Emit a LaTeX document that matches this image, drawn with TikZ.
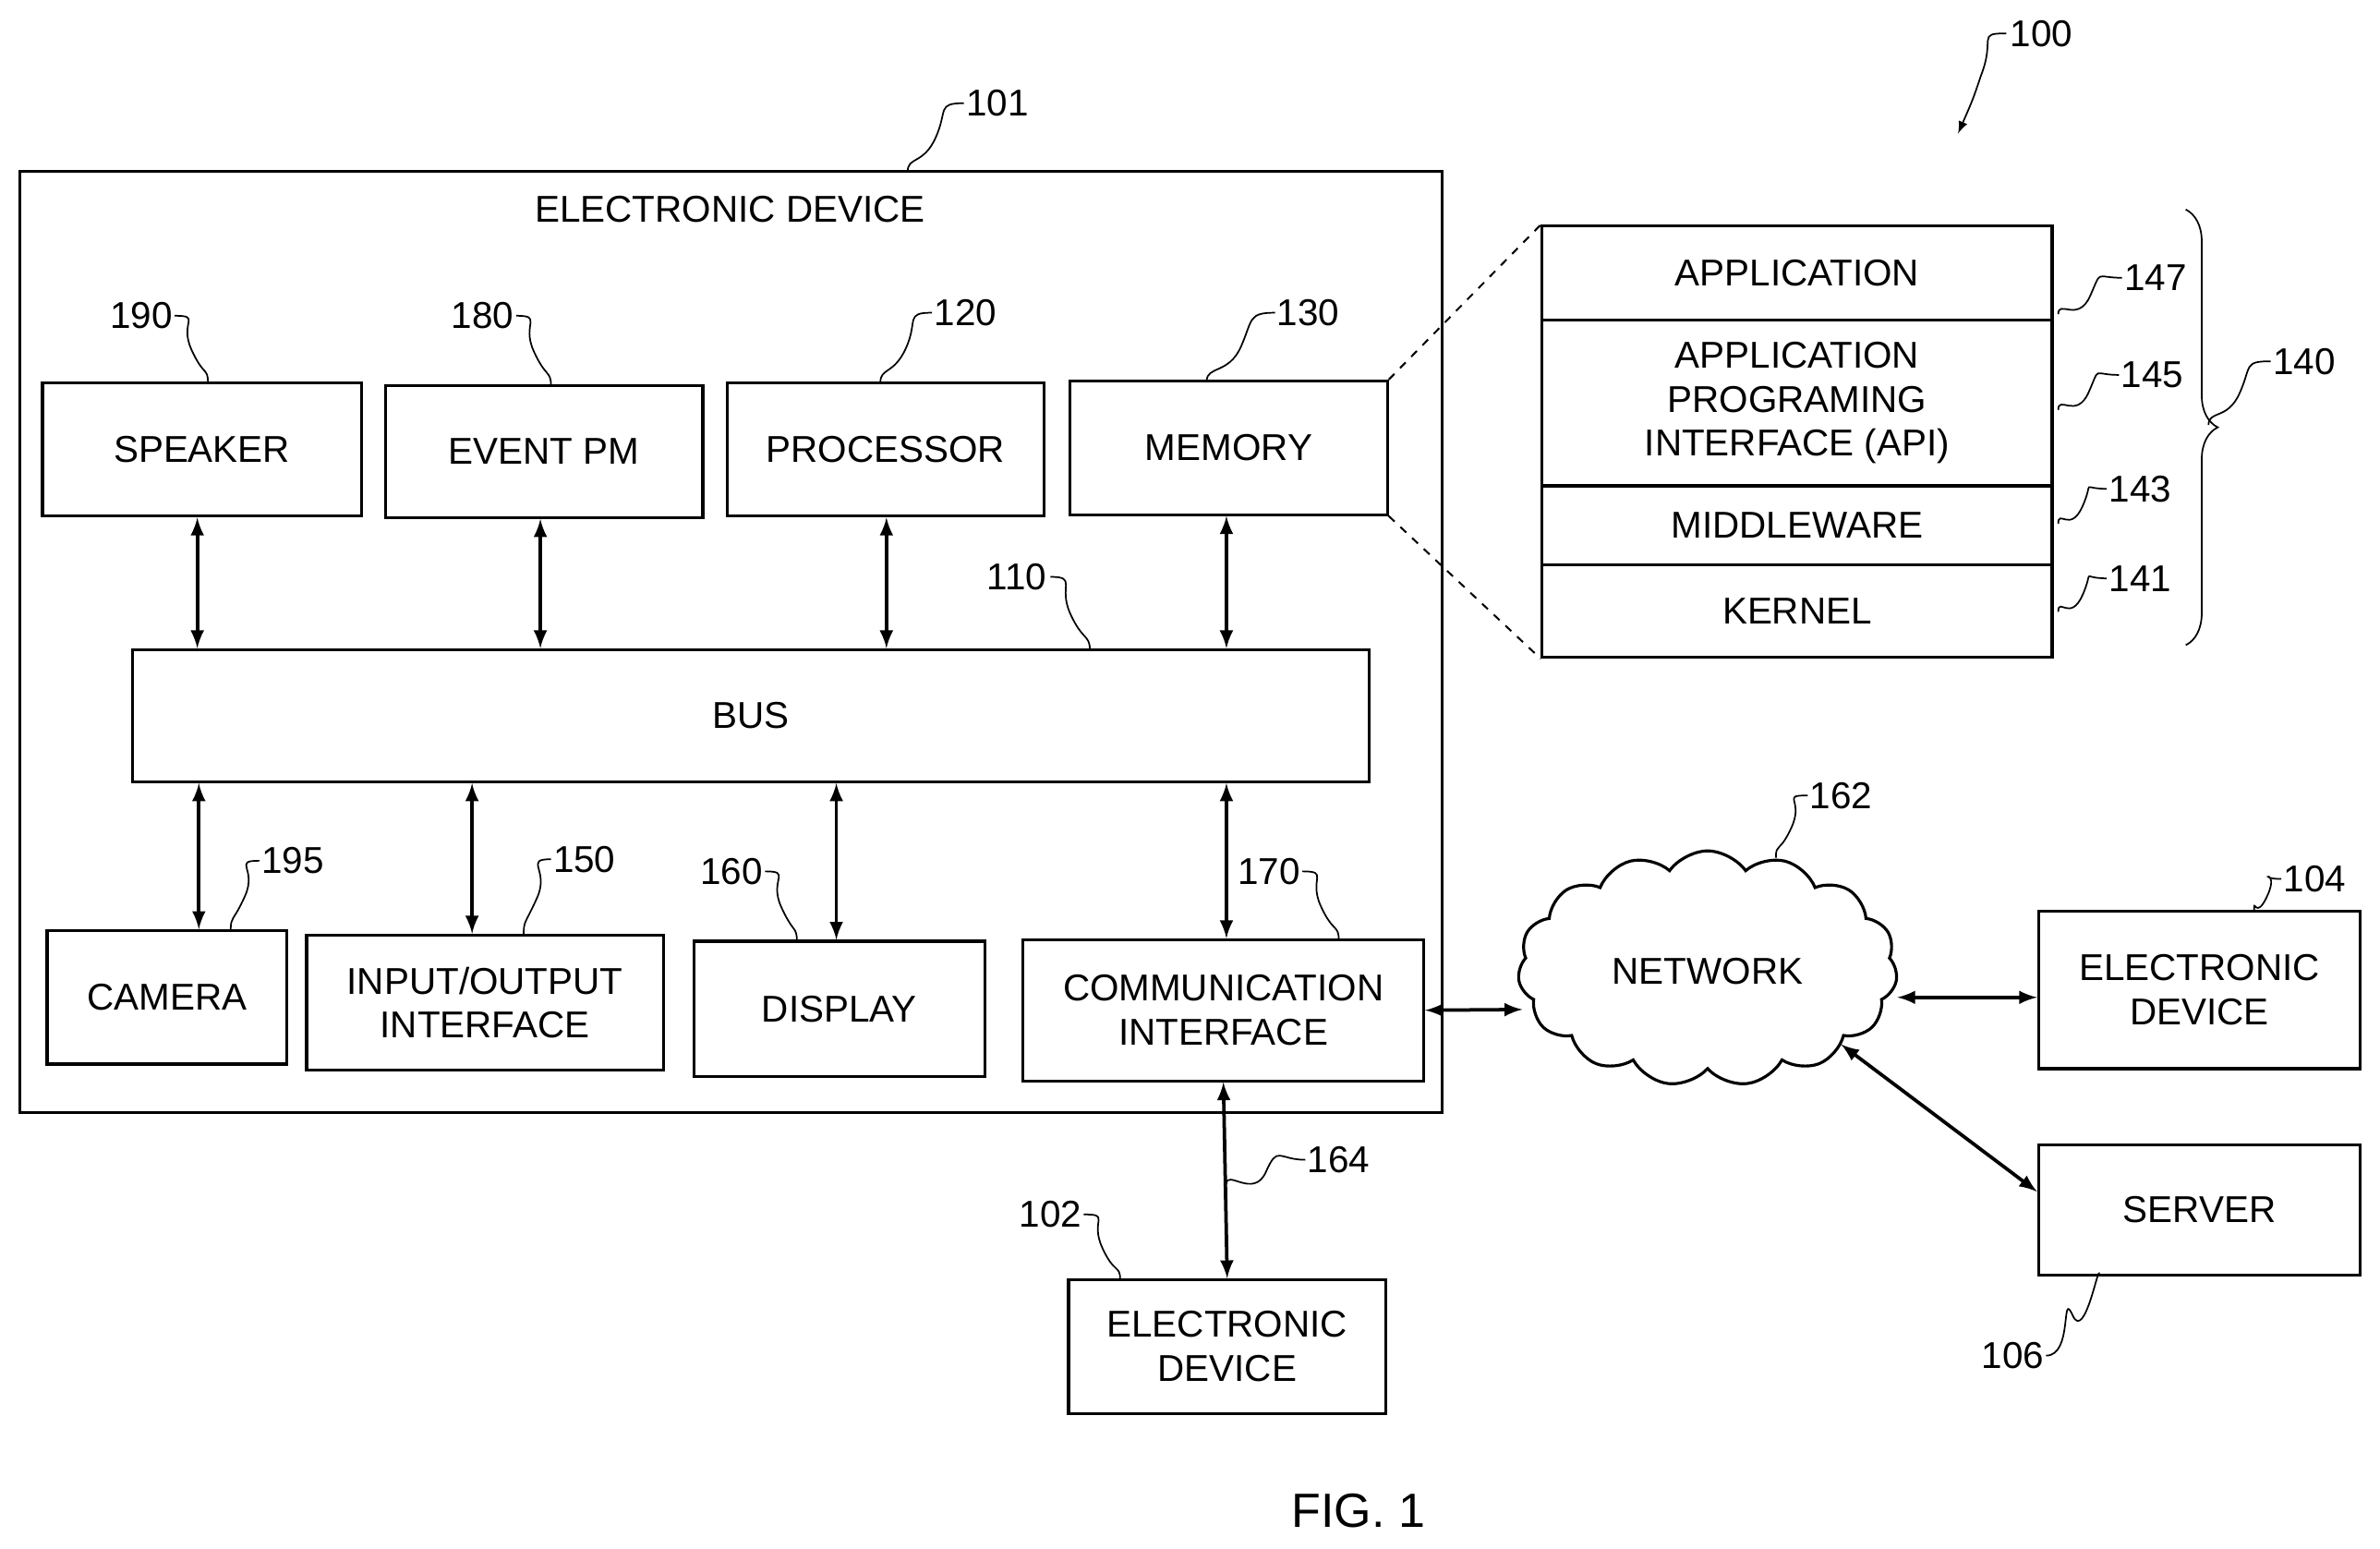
\documentclass[tikz,border=0pt]{standalone}
\usepackage{fontspec}
\setmainfont{Liberation Sans}
\usetikzlibrary{calc,shapes.symbols,decorations.pathreplacing}
\begin{document}
\begin{tikzpicture}[x=0.02cm,y=-0.02cm,line width=1.1pt,
  font=\fontsize{14}{16.5}\selectfont,
  box/.style={draw,align=center,inner sep=0pt},
  link/.style={latex-latex,line width=1.3pt},
  lead/.style={line width=0.6pt},
  refno/.style={inner sep=1pt}]
\useasboundingbox (0,0) rectangle (1568,1020);
% device 101
\node[box,minimum width=18.74cm,minimum height=12.4cm] (dev) at (481.5,423) {};
\node at (481,138) {ELECTRONIC DEVICE};
\node[box,minimum width=4.2cm,minimum height=1.76cm] (spk) at (133,296) {SPEAKER};
\node[box,minimum width=4.18cm,minimum height=1.74cm] (evt) at (358.5,297.5) {EVENT PM};
\node[box,minimum width=4.18cm,minimum height=1.76cm] (proc) at (583.5,296) {PROCESSOR};
\node[box,minimum width=4.18cm,minimum height=1.76cm] (mem) at (809.5,295) {MEMORY};
\node[box,minimum width=16.3cm,minimum height=1.74cm] (bus) at (494.5,471.5) {BUS};
\node[box,minimum width=3.16cm,minimum height=1.76cm] (cam) at (110,657) {CAMERA};
\node[box,minimum width=4.7cm,minimum height=1.78cm] (io) at (319.5,660.5) {INPUT/OUTPUT\\INTERFACE};
\node[box,minimum width=3.84cm,minimum height=1.78cm] (disp) at (553,664.5) {DISPLAY};
\node[box,minimum width=5.28cm,minimum height=1.86cm] (comm) at (806,665.5) {COMMUNICATION\\INTERFACE};
% software stack
\node[box,minimum width=6.72cm,minimum height=1.24cm] (app) at (1184,180) {APPLICATION};
\node[box,minimum width=6.72cm,minimum height=2.18cm] (api) at (1184,265.5) {APPLICATION\\PROGRAMING\\INTERFACE (API)};
\node[box,minimum width=6.72cm,minimum height=1.04cm] (mid) at (1184,346) {MIDDLEWARE};
\node[box,minimum width=6.72cm,minimum height=1.22cm] (ker) at (1184,402.5) {KERNEL};
\draw[dashed,line width=0.7pt] (mem.north east) -- (app.north west);
\draw[dashed,line width=0.7pt] (mem.south east) -- (ker.south west);
\draw[lead,decorate,decoration={brace,amplitude=12pt}] (1440,138) -- (1440,425);
% outside
\node[cloud,draw,cloud puffs=15,cloud puff arc=110,aspect=1.6,minimum width=5cm,minimum height=3.1cm] (net) at (1125,638) {};
\node at (1125,640) {NETWORK};
\node[box,minimum width=4.24cm,minimum height=2.08cm] (dev104) at (1449,652) {ELECTRONIC\\DEVICE};
\node[box,minimum width=4.24cm,minimum height=1.72cm] (srv) at (1449,797) {SERVER};
\node[box,minimum width=4.18cm,minimum height=1.76cm] (dev102) at (808.5,887) {ELECTRONIC\\DEVICE};
\node[font=\fontsize{18}{20}\selectfont] (fig) at (895,995) {FIG. 1};
% connectors
\foreach \n/\x in {spk/130,evt/356,proc/584,mem/808}
  \draw[link] (\n.south -| \x,0) -- (bus.north -| \x,0);
\foreach \n/\x in {cam/131,io/311,disp/551,comm/808}
  \draw[link] (bus.south -| \x,0) -- (\n.north -| \x,0);
\draw[link] (comm.south) -- (dev102.north);
\draw[link] (comm.east) -- (1003,665);
\draw[link] (1250,657) -- (dev104.west |- 0,657);
\draw[link] (1213,688) -- (srv.west |- 0,785);
% reference numerals
\node[refno] (r100) at (1345,22) {100};
\draw[lead,-latex] (r100.west) .. controls +(-20,0) and +(10,-25) .. (1305,50) .. controls +(-5,15) .. (1290,88);
\foreach \t/\lx/\ly/\px/\py/\s in {101/657/68/598/113/-1,190/93/208/137/252/1,180/318/208/363/254/1,
  120/636/206/580/252/-1,130/862/206/795/251/-1,110/670/380/718/428/1,147/1420/183/1356/207/-1,
  145/1418/247/1356/270/-1,143/1410/322/1356/345/-1,141/1410/381/1356/403/-1,140/1518/238/1455/280/-1,
  195/193/567/152/613/-1,150/385/566/345/616/-1,160/482/574/525/620/1,170/836/574/882/619/1,
  162/1213/524/1170/565/-1,104/1525/579/1485/600/-1,164/882/764/808/780/-1,102/692/800/738/843/1,
  106/1326/893/1383/840/1}
{
  \node[refno] (r\t) at (\lx,\ly) {\t};
  \draw[lead] (\lx+\s*22,\ly) .. controls +(\s*18,0) and +(-\s*8,-18) .. ($(\lx+\s*22,\ly)!0.5!(\px,\py)$) .. controls +(\s*8,18) and +(0,-10) .. (\px,\py);
}
\end{tikzpicture}
\end{document}
